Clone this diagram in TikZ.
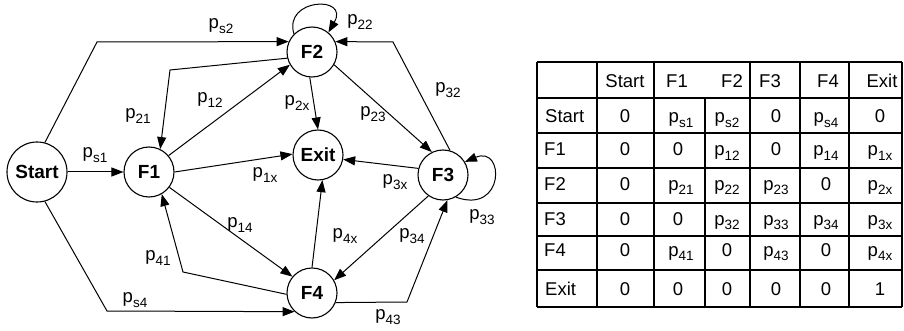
\documentclass[tikz,border=0pt]{standalone}
\usepackage{fontspec}
\setmainfont{Liberation Sans}
\usetikzlibrary{arrows.meta}
\newcommand{\pl}[1]{p\raisebox{-4.5pt}{\fontsize{13.5}{13.5}\selectfont #1}}
\begin{document}
\begin{tikzpicture}[x=1pt,y=-1pt,
  state/.style={circle, draw, line width=1.1pt, minimum size=50pt, inner sep=0pt, font=\bfseries\fontsize{19}{22}\selectfont},
  lbl/.style={inner sep=0pt, font=\fontsize{18.5}{22}\selectfont},
  cell/.style={inner sep=0pt, anchor=base, font=\fontsize{18.5}{22}\selectfont},
  rowlbl/.style={inner sep=0pt, anchor=base west, font=\fontsize{18.5}{22}\selectfont},
  arr/.style={line width=1pt, -{Triangle[length=12pt,width=9pt]}},
  grid/.style={line width=1.3pt}]
\useasboundingbox (0,0) rectangle (904,331);

% states
\node[state, minimum size=60pt] (Start) at (37,172) {Start};
\node[state] (F1) at (149,172) {F1};
\node[state] (F2) at (312,52) {F2};
\node[state] (Exit) at (318,155) {Exit};
\node[state] (F3) at (443,175) {F3};
\node[state] (F4) at (312,293) {F4};

% bend points
\coordinate (s2) at (97,42);
\coordinate (s4) at (107,311);
\coordinate (k21) at (170,70);
\coordinate (k41) at (183,272);
\coordinate (k32) at (393,42);
\coordinate (k43) at (407,302);

% connectors
\draw[arr] (Start) -- (F1);
\draw[arr] (Start.75) -- (s2) -- (F2.156);
\draw[arr] (Start.-75) -- (s4) -- (F4.-133);
\draw[arr] (F2.194) -- (k21) -- (F1.64);
\draw[arr] (F1.40) -- (F2.210);
\draw[arr] (F1.0) -- (Exit.178);
\draw[arr] (F1.-37) -- (F4.140);
\draw[arr] (F4.183) -- (k41) -- (F1.-60);
\draw[arr] (F2.135) .. controls (283,-2) and (350,-5) .. (F2.50);
\draw[arr] (F2.-95) -- (Exit.90);
\draw[arr] (F2.-30) -- (F3.116);
\draw[arr] (F3.74) -- (k32) -- (F2.24);
\draw[arr] (F3.165) -- (Exit.-10);
\draw[arr] (F3.-60) .. controls (505,215) and (505,145) .. (F3.31);
\draw[arr] (F3.-125) -- (F4.30);
\draw[arr] (F4.-22) -- (k43) -- (F3.-80);
\draw[arr] (F4.90) -- (Exit.-80);

% edge labels
\node[lbl] (Ls2) at (221,26) {\pl{s2}};
\node[lbl] (L22) at (360,22) {\pl{22}};
\node[lbl] (L21) at (138,116) {\pl{21}};
\node[lbl] (L12) at (210,100) {\pl{12}};
\node[lbl] (Ls1) at (95,155) {\pl{s1}};
\node[lbl] (L1x) at (265,175) {\pl{1x}};
\node[lbl] (L2x) at (297,103) {\pl{2x}};
\node[lbl] (L23) at (373,114) {\pl{23}};
\node[lbl] (L32) at (448,90) {\pl{32}};
\node[lbl] (L3x) at (395,182) {\pl{3x}};
\node[lbl] (L33) at (482,217) {\pl{33}};
\node[lbl] (L34) at (412,236) {\pl{34}};
\node[lbl] (L4x) at (345,236) {\pl{4x}};
\node[lbl] (L43) at (388,317) {\pl{43}};
\node[lbl] (L14) at (240,225) {\pl{14}};
\node[lbl] (L41) at (158,258) {\pl{41}};
\node[lbl] (Ls4) at (135,300) {\pl{s4}};

% table grid
\foreach \yy in {62,98,133,168,203,236,270,307}
  \draw[grid] (537,\yy) -- (902,\yy);
\foreach \xx in {537,597,654,750,800,849,902}
  \draw[grid] (\xx,62) -- (\xx,307);
\draw[grid] (705,98) -- (705,307);

% header
\node[cell] (hS) at (625,88) {Start};
\node[cell] (h1) at (677,88) {F1};
\node[cell] (h2) at (732,88) {F2};
\node[cell] (h3) at (770,88) {F3};
\node[cell] (h4) at (828,88) {F4};
\node[cell] (hX) at (882,88) {Exit};

% row labels
\node[rowlbl] (rS) at (545,123) {Start};
\node[rowlbl] (r1) at (544,156) {F1};
\node[rowlbl] (r2) at (544,190) {F2};
\node[rowlbl] (r3) at (544,225) {F3};
\node[rowlbl] (r4) at (544,256) {F4};
\node[rowlbl] (rX) at (545,295) {Exit};

% cells
\node[cell] (cS0) at (625,123) {0};
\node[cell] (cS1) at (681,123) {\pl{s1}};
\node[cell] (cS2) at (727,123) {\pl{s2}};
\node[cell] (cS3) at (776,123) {0};
\node[cell] (cS4) at (826,123) {\pl{s4}};
\node[cell] (cSX) at (880,123) {0};

\node[cell] (c10) at (625,156) {0};
\node[cell] (c11) at (678,156) {0};
\node[cell] (c12) at (727,156) {\pl{12}};
\node[cell] (c13) at (776,156) {0};
\node[cell] (c14) at (826,156) {\pl{14}};
\node[cell] (c1X) at (880,156) {\pl{1x}};

\node[cell] (c20) at (625,190) {0};
\node[cell] (c21) at (681,190) {\pl{21}};
\node[cell] (c22) at (727,190) {\pl{22}};
\node[cell] (c23) at (776,190) {\pl{23}};
\node[cell] (c24) at (826,190) {0};
\node[cell] (c2X) at (880,190) {\pl{2x}};

\node[cell] (c30) at (625,225) {0};
\node[cell] (c31) at (678,225) {0};
\node[cell] (c32) at (727,225) {\pl{32}};
\node[cell] (c33) at (776,225) {\pl{33}};
\node[cell] (c34) at (826,225) {\pl{34}};
\node[cell] (c3X) at (880,225) {\pl{3x}};

\node[cell] (c40) at (625,256) {0};
\node[cell] (c41) at (681,256) {\pl{41}};
\node[cell] (c42) at (727,256) {0};
\node[cell] (c43) at (776,256) {\pl{43}};
\node[cell] (c44) at (826,256) {0};
\node[cell] (c4X) at (880,256) {\pl{4x}};

\node[cell] (cX0) at (625,295) {0};
\node[cell] (cX1) at (678,295) {0};
\node[cell] (cX2) at (727,295) {0};
\node[cell] (cX3) at (776,295) {0};
\node[cell] (cX4) at (826,295) {0};
\node[cell] (cXX) at (880,295) {1};
\end{tikzpicture}
\end{document}
